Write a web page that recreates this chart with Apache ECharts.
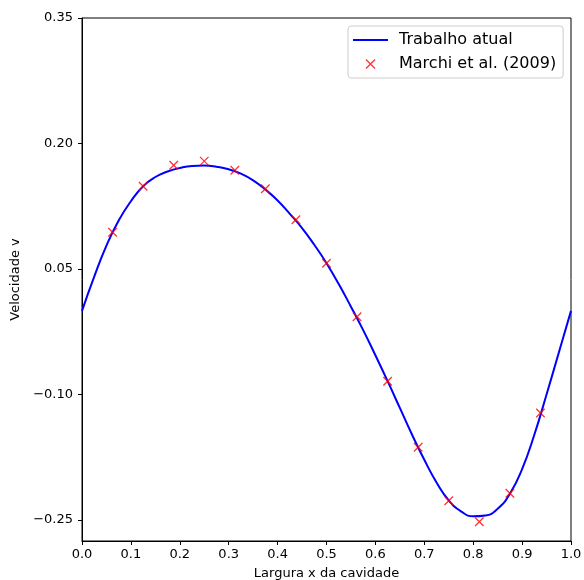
<!DOCTYPE html>
<html>
<head>
<meta charset="utf-8">
<script src="https://cdn.jsdelivr.net/npm/echarts@6/dist/echarts.min.js"></script>
<style>
html,body{margin:0;padding:0;background:#fff;}
#chart{width:584px;height:580px;}
</style>
</head>
<body>
<div id="chart"></div>
<script>
// Curve: "Trabalho atual"
const xCurve = [0, 0.025, 0.05, 0.075, 0.1, 0.125, 0.15, 0.175, 0.2, 0.225, 0.25, 0.275, 0.3, 0.325, 0.35, 0.375, 0.4, 0.425, 0.45, 0.475, 0.5, 0.525, 0.55, 0.575, 0.6, 0.625, 0.65, 0.675, 0.7, 0.725, 0.75, 0.775, 0.8, 0.825, 0.85, 0.875, 0.9, 0.925, 0.95, 0.975, 1.0];
const vCurve = [0.0, 0.041, 0.078, 0.108, 0.131, 0.149, 0.160, 0.1665, 0.1708, 0.1732, 0.1736, 0.1722, 0.1692, 0.164, 0.156, 0.145, 0.132, 0.116, 0.099, 0.079, 0.057, 0.032, 0.005, -0.023, -0.053, -0.084, -0.116, -0.148, -0.178, -0.205, -0.2265, -0.2395, -0.2455, -0.2445, -0.2365, -0.2185, -0.189, -0.148, -0.100, -0.050, 0.0];
// Markers: "Marchi et al. (2009)"
const xMarchi = [0.0625, 0.125, 0.1875, 0.25, 0.3125, 0.375, 0.4375, 0.5, 0.5625, 0.625, 0.6875, 0.75, 0.8125, 0.875, 0.9375];
const vMarchi = [0.094, 0.149, 0.174, 0.179, 0.168, 0.146, 0.109, 0.057, -0.007, -0.084, -0.163, -0.227, -0.252, -0.218, -0.122];
// Axis ticks
const yTickValues = [-0.25, -0.10, 0.05, 0.20, 0.35];
const seriesNames = ['Trabalho atual', 'Marchi et al. (2009)'];

const FONT = 'DejaVu Sans';
const chart = echarts.init(document.getElementById('chart'), null, {renderer: 'canvas'});
const xMark = 'path://M0,0L10,10M10,0L0,10';
const xMarkLegend = 'path://M0,0M20,20M3.5,3.5L16.5,16.5M16.5,3.5L3.5,16.5';
const lineLegend = 'path://M0,0H35V2H0Z';

chart.setOption({
  animation: false,
  backgroundColor: '#fff',
  textStyle: {fontFamily: FONT},
  grid: {left: 82, right: 13, top: 18, bottom: 39, containLabel: false, outerBoundsMode: 'none',
    show: true, borderColor: '#000', borderWidth: 1, backgroundColor: 'transparent'},
  legend: {
    orient: 'vertical',
    left: 348, top: 26,
    padding: [6, 7, 6, 5],
    itemWidth: 35, itemHeight: 14, itemGap: 8,
    borderColor: '#cccccc', borderWidth: 1, borderRadius: 3,
    backgroundColor: 'rgba(255,255,255,0.8)',
    textStyle: {fontFamily: FONT, fontSize: 16, color: '#000', lineHeight: 16, padding: [0, 0, 0, 6]},
    data: [
      {name: seriesNames[0], icon: lineLegend, itemStyle: {color: '#0000ff', borderWidth: 0}},
      {name: seriesNames[1], icon: xMarkLegend, itemStyle: {color: '#ff0000', borderColor: '#ff0000', borderWidth: 1.3}}
    ]
  },
  xAxis: {
    type: 'value', min: 0, max: 1, interval: 0.1,
    name: 'Largura x da cavidade', nameLocation: 'middle', nameGap: 26,
    nameTextStyle: {fontFamily: FONT, fontSize: 13, color: '#000'},
    axisLine: {show: true, onZero: false, lineStyle: {color: '#000', width: 1}},
    axisTick: {show: true, inside: false, length: 4, lineStyle: {color: '#000', width: 1}},
    axisLabel: {margin: 7, fontFamily: FONT, fontSize: 13, color: '#000', formatter: v => v.toFixed(1)},
    splitLine: {show: false}
  },
  yAxis: {
    type: 'value', min: -0.275, max: 0.35,
    name: 'Velocidade v', nameLocation: 'middle', nameGap: 50, nameRotate: 90,
    nameTextStyle: {fontFamily: FONT, fontSize: 13, color: '#000'},
    axisLine: {show: true, onZero: false, lineStyle: {color: '#000', width: 1}},
    axisTick: {show: true, inside: false, length: 4, lineStyle: {color: '#000', width: 1}, customValues: yTickValues},
    axisLabel: {margin: 9, fontFamily: FONT, fontSize: 13, color: '#000', customValues: yTickValues,
      formatter: v => v.toFixed(2).replace('-', '\u2212')},
    splitLine: {show: false}
  },
  series: [
    {
      name: seriesNames[0], type: 'line', symbol: 'none', smooth: 0.5,
      lineStyle: {color: '#0000ff', width: 2},
      itemStyle: {color: '#0000ff'},
      data: xCurve.map((x, i) => [x, vCurve[i]]),
      z: 2
    },
    {
      name: seriesNames[1], type: 'scatter', symbol: xMark, symbolSize: 8.5,
      itemStyle: {color: 'none', borderColor: '#ff0000', borderWidth: 1.3},
      data: xMarchi.map((x, i) => [x, vMarchi[i]]),
      z: 3
    }
  ]
});
</script>
</body>
</html>
